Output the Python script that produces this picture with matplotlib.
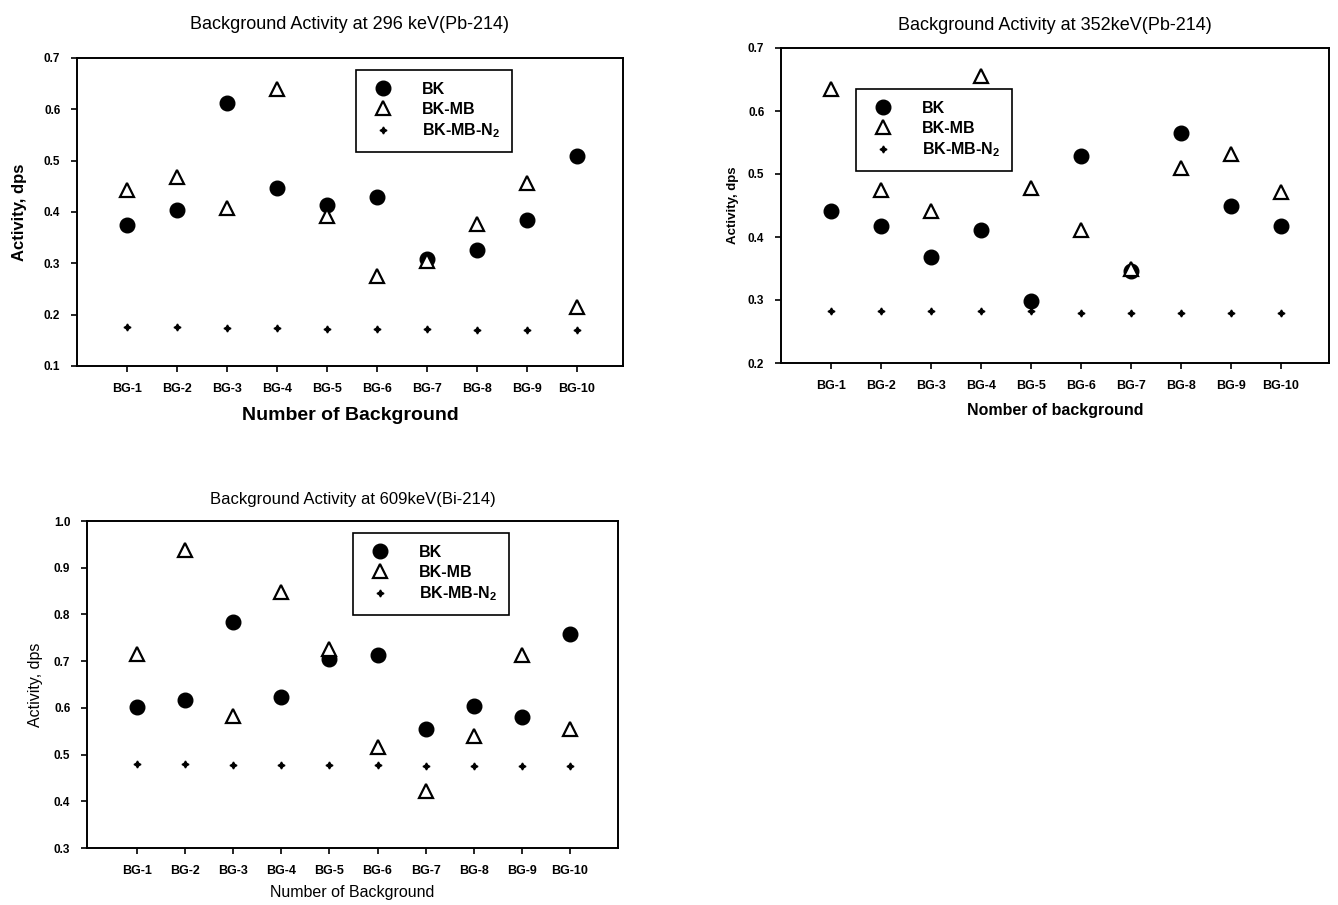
import matplotlib
matplotlib.use("Agg")
import matplotlib.pyplot as plt

plt.rcParams["font.family"] = ["Liberation Sans", "DejaVu Sans"]
plt.rcParams["mathtext.fontset"] = "custom"
plt.rcParams["mathtext.rm"] = "Liberation Sans"
plt.rcParams["mathtext.bf"] = "Liberation Sans:bold"

labels = ["BG-1", "BG-2", "BG-3", "BG-4", "BG-5", "BG-6", "BG-7", "BG-8", "BG-9", "BG-10"]
series_names = ["BK", "BK-MB", r"BK-MB-N$_\mathbf{2}$"]

# 296 keV (Pb-214)
bk_296 = [0.375, 0.404, 0.612, 0.447, 0.414, 0.430, 0.308, 0.326, 0.385, 0.510]
mb_296 = [0.442, 0.469, 0.408, 0.640, 0.392, 0.276, 0.305, 0.377, 0.457, 0.215]
n2_296 = [0.175, 0.175, 0.174, 0.174, 0.173, 0.173, 0.172, 0.171, 0.171, 0.170]

# 352 keV (Pb-214)
bk_352 = [0.442, 0.417, 0.369, 0.411, 0.298, 0.528, 0.346, 0.565, 0.449, 0.418]
mb_352 = [0.635, 0.475, 0.441, 0.656, 0.478, 0.411, 0.349, 0.510, 0.532, 0.471]
n2_352 = [0.283, 0.282, 0.282, 0.282, 0.282, 0.280, 0.280, 0.280, 0.280, 0.279]

# 609 keV (Bi-214)
bk_609 = [0.602, 0.616, 0.783, 0.623, 0.705, 0.714, 0.555, 0.603, 0.580, 0.758]
mb_609 = [0.716, 0.938, 0.583, 0.847, 0.726, 0.516, 0.421, 0.539, 0.714, 0.555]
n2_609 = [0.479, 0.479, 0.478, 0.478, 0.478, 0.478, 0.476, 0.476, 0.475, 0.475]

W, H = 1338, 905
fig = plt.figure(figsize=(W / 100, H / 100), dpi=100)


def box(left, right, top, bottom):
    # pixel box -> figure fraction
    return [left / W, 1 - bottom / H, (right - left) / W, (bottom - top) / H]


def panel(rect, bk, mb, n2, title, title_kw, ylim, yticks, xlim, xlabel, xl_kw, yl_kw,
          leg_anchor, leg_size):
    ax = fig.add_axes(rect)
    x = list(range(1, len(labels) + 1))
    ax.plot(x, bk, "o", color="black", markersize=10.5, linestyle="none", label=series_names[0])
    ax.plot(x, mb, "^", mfc="white", mec="black", mew=1.6, markersize=10.5,
            linestyle="none", label=series_names[1])
    ax.plot(x, n2, marker=(4, 1, 0), color="black", markersize=5, linestyle="none",
            label=series_names[2])
    ax.set_xlim(*xlim)
    ax.set_ylim(*ylim)
    ax.set_xticks(x)
    ax.set_xticklabels(labels, fontsize=9, fontweight="bold")
    ax.set_yticks(yticks)
    ax.set_yticklabels([f"{v:.1f}" for v in yticks], fontsize=8.5, fontweight="bold")
    ax.tick_params(direction="out", length=4, width=1.2, pad=8)
    for s in ax.spines.values():
        s.set_linewidth(1.4)
    ax.set_title(title, **title_kw)
    ax.set_xlabel(xlabel, **xl_kw)
    ax.set_ylabel("Activity, dps", **yl_kw)
    leg = ax.legend(loc="upper left", bbox_to_anchor=leg_anchor, fancybox=False,
                    edgecolor="black", framealpha=1, prop={"weight": "bold", "size": leg_size},
                    handletextpad=1.5, borderpad=0.75, labelspacing=0.3, borderaxespad=0,
                    handlelength=1.9)
    leg.get_frame().set_linewidth(1.2)
    return ax


panel(box(77, 623, 58, 366), bk_296, mb_296, n2_296,
      "Background Activity at 296 keV(Pb-214)", {"fontsize": 13, "pad": 21},
      (0.1, 0.7), [0.1, 0.2, 0.3, 0.4, 0.5, 0.6, 0.7], (0.0, 10.92),
      "Number of Background", {"fontsize": 14, "fontweight": "bold", "labelpad": 9},
      {"fontsize": 12, "fontweight": "bold", "labelpad": 12}, (0.511, 0.961), 11.5)

panel(box(781, 1329, 48, 363), bk_352, mb_352, n2_352,
      "Background Activity at 352keV(Pb-214)", {"fontsize": 13, "pad": 13},
      (0.2, 0.7), [0.2, 0.3, 0.4, 0.5, 0.6, 0.7], (0.0, 10.96),
      "Nomber of background", {"fontsize": 11.5, "fontweight": "bold", "labelpad": 8},
      {"fontsize": 9.5, "fontweight": "bold", "labelpad": 6}, (0.137, 0.870), 11.5)

panel(box(87, 618, 521, 848), bk_609, mb_609, n2_609,
      "Background Activity at 609keV(Bi-214)", {"fontsize": 12, "pad": 12},
      (0.3, 1.0), [0.3, 0.4, 0.5, 0.6, 0.7, 0.8, 0.9, 1.0], (-0.04, 11.0),
      "Number of Background", {"fontsize": 11.5, "labelpad": 6},
      {"fontsize": 11.5, "labelpad": 8}, (0.501, 0.963), 11.5)

fig.savefig("out.png", dpi=100)
